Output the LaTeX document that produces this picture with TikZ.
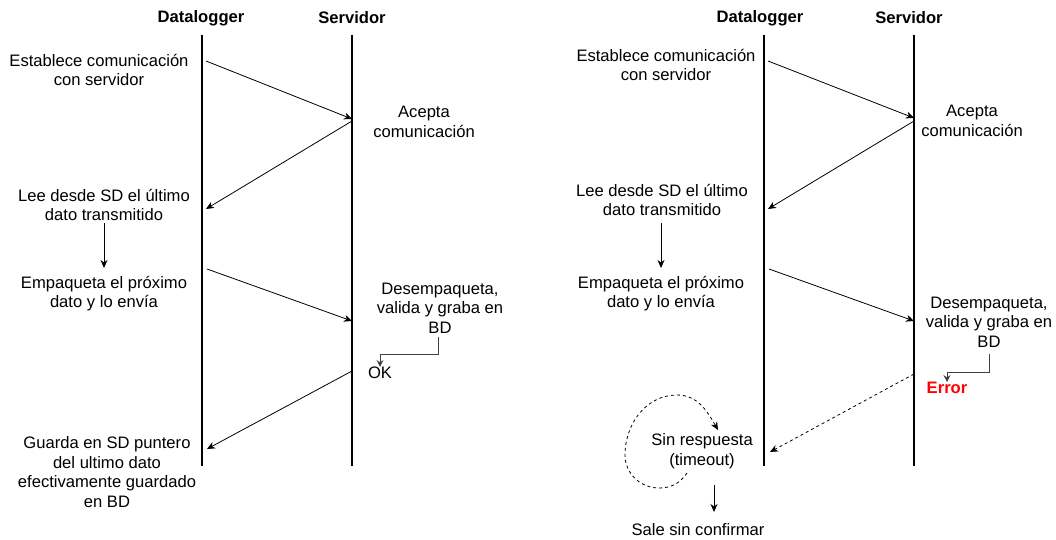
\documentclass[tikz,border=0pt]{standalone}
\usepackage{fontspec}
\setmainfont{Liberation Sans}
\usetikzlibrary{arrows.meta}
\tikzset{
  txt/.style={align=center, inner sep=0pt, font=\fontsize{16.6}{19.4}\selectfont},
  ttl/.style={inner sep=0pt, font=\fontsize{16.6}{19.4}\selectfont\bfseries},
  life/.style={line width=2pt},
  msg/.style={line width=0.8pt, -{Stealth[length=8pt,width=7pt,inset=2.5pt]}},
  dmsg/.style={msg, dash pattern=on 3pt off 3pt},
  elbow/.style={line width=1pt, draw=black!75, -{Stealth[length=7pt,width=7pt,inset=2.5pt]}, rounded corners=0pt}
}
\begin{document}
\begin{tikzpicture}[x=1pt,y=-1pt]
\useasboundingbox (0,0) rectangle (1056,540);
% ---------------- left diagram ----------------
\node[ttl] (dl1) at (201,18) {Datalogger};
\node[ttl] (sv1) at (352,18) {Servidor};
\coordinate (dlT1) at (202,35); \coordinate (dlB1) at (202,466);
\coordinate (svT1) at (352,35); \coordinate (svB1) at (352,466);
\draw[life] (dlT1) -- (dlB1);
\draw[life] (svT1) -- (svB1);

\node[txt] (est1) at (99,70) {Establece comunicación\\con servidor};
\node[txt] (acp1) at (424,122) {Acepta\\comunicación};
\node[txt] (lee1) at (104,205) {Lee desde SD el último\\dato transmitido};
\node[txt] (emp1) at (104,293.5) {Empaqueta el próximo\\dato y lo envía};
\node[txt] (des1) at (440,308) {Desempaqueta,\\valida y graba en\\BD};
\node[txt] (ok1) at (380,373) {OK};
\node[txt] (gua1) at (107,472) {Guarda en SD puntero\\del ultimo dato\\efectivamente guardado\\en BD};

\coordinate (a1s) at (206,61);  \coordinate (a1e) at (352,119);
\coordinate (a2s) at (352,121); \coordinate (a2e) at (206,209);
\coordinate (a3s) at (207,269); \coordinate (a3e) at (352,321);
\coordinate (a4s) at (352,371); \coordinate (a4e) at (207,449);
\draw[msg] (a1s) -- (a1e);
\draw[msg] (a2s) -- (a2e);
\draw[msg] (a3s) -- (a3e);
\draw[msg] (a4s) -- (a4e);
\coordinate (v1s) at (104,223); \coordinate (v1e) at (104,268);
\draw[msg] (v1s) -- (v1e);
\coordinate (bd1) at (438,337);
\draw[elbow] (bd1) -- (438,354) -| (ok1.north);

% ---------------- right diagram ----------------
\node[ttl] (dl2) at (760,18) {Datalogger};
\node[ttl] (sv2) at (909,18) {Servidor};
\coordinate (dlT2) at (764,35); \coordinate (dlB2) at (764,466);
\coordinate (svT2) at (914,35); \coordinate (svB2) at (914,466);
\draw[life] (dlT2) -- (dlB2);
\draw[life] (svT2) -- (svB2);

\node[txt] (est2) at (666,65) {Establece comunicación\\con servidor};
\node[txt] (acp2) at (972,121) {Acepta\\comunicación};
\node[txt] (lee2) at (662,200) {Lee desde SD el último\\dato transmitido};
\node[txt] (emp2) at (661,293.5) {Empaqueta el próximo\\dato y lo envía};
\node[txt] (des2) at (989,322) {Desempaqueta,\\valida y graba en\\BD};
\node[txt, text=red, font=\fontsize{16.6}{19.4}\selectfont\bfseries] (err2) at (947,388) {Error};
\node[txt] (sin2) at (702,451) {Sin respuesta\\(timeout)};
\node[txt] (sal2) at (698,530) {Sale sin confirmar};

\coordinate (b1s) at (768,61);  \coordinate (b1e) at (914,118);
\coordinate (b2s) at (914,121); \coordinate (b2e) at (768,209);
\coordinate (b3s) at (769,269); \coordinate (b3e) at (914,321);
\coordinate (b4s) at (914,374); \coordinate (b4e) at (770,452);
\draw[msg] (b1s) -- (b1e);
\draw[msg] (b2s) -- (b2e);
\draw[msg] (b3s) -- (b3e);
\draw[dmsg] (b4s) -- (b4e);
\coordinate (v2s) at (661,223); \coordinate (v2e) at (661,268);
\draw[msg] (v2s) -- (v2e);
\coordinate (bd2) at (989,354);
\draw[elbow] (bd2) -- (989,372) -| (err2.north);
\coordinate (lp1) at (687,473); \coordinate (lp2) at (718,430);
\draw[dmsg] (lp1) to[out=235,in=0] (659,488) to[out=180,in=270] (625,455)
   to[out=90,in=180] (677,395) to[out=0,in=120] (lp2);
\coordinate (v3s) at (714,485); \coordinate (v3e) at (714,512);
\draw[msg] (v3s) -- (v3e);
\end{tikzpicture}
\end{document}
